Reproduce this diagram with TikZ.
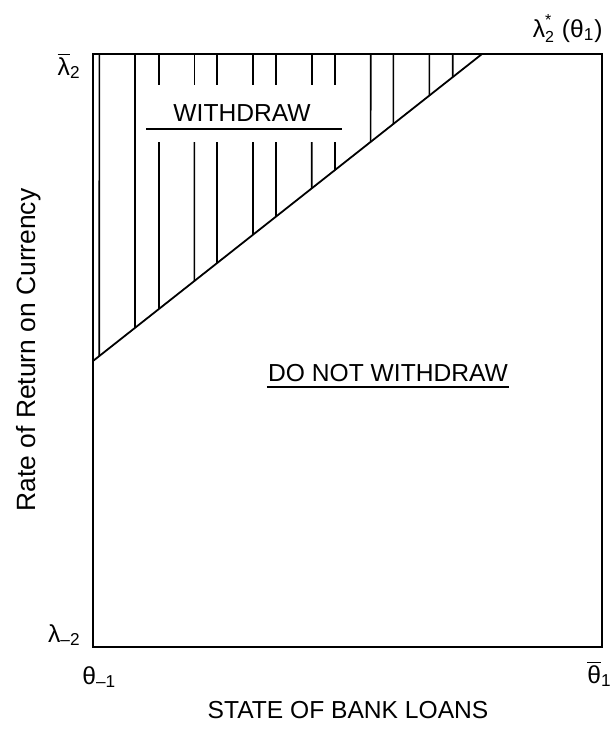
\documentclass[tikz,border=0pt]{standalone}
\usepackage{fontspec}
\setmainfont{Liberation Sans}
\usetikzlibrary{calc}

\newcommand{\barsym}[1]{$\overline{\mbox{#1}}$}

\begin{document}
\begin{tikzpicture}[x=0.5pt, y=-0.5pt, every node/.style={font=\fontsize{12.3}{14.6}\selectfont, inner sep=0pt}, hatch/.style={line width=0.8pt}, frame/.style={line width=0.9pt}]
	\useasboundingbox (0,0) rectangle (613,734);
	\coordinate (sw) at (93,647);
	\coordinate (ne) at (602,54);
	\coordinate (lo) at (93,361);
	\coordinate (hi) at (482,54);
	\foreach \hx in {99.3,135,370.7,393.3,429.3,452.7}
		\draw[hatch] (\hx,54) -- ($(lo)!{(\hx-93)/389}!(hi)$);
	\foreach \hx in {159,194.3,217,253,276,311.7,335} {
		\draw[hatch] (\hx,54) -- (\hx,85);
		\draw[hatch] (\hx,142) -- ($(lo)!{(\hx-93)/389}!(hi)$);
	}
	\draw[frame] (lo) -- (hi);
	\draw[frame] (sw) rectangle (ne);
	\node[anchor=base] (wd) at (242,121) {WITHDRAW};
	\coordinate (wdl) at (146,128.7);
	\coordinate (wdr) at (342,128.7);
	\draw[line width=0.8pt] (wdl) -- (wdr);
	\node[anchor=base] (nwd) at (388,381) {DO NOT WITHDRAW};
	\draw[line width=0.8pt] ($(nwd.base west)+(-1,6)$) -- ($(nwd.base east)+(1,6)$);
	\node[anchor=base east] (lmax) at (81,75) {\barsym{λ}\textsubscript{2}};
	\node[anchor=base east] (lmin) at (81,642) {λ\textsubscript{–2}};
	\node[anchor=base west] (tmin) at (82,684) {θ\textsubscript{–1}};
	\node[anchor=base east] (tmax) at (612,683) {\barsym{θ}\textsubscript{1}};
	\node[anchor=base east] (lstar) at (603,37) {$\mbox{λ}^{\mbox{\footnotesize *}}_{\mbox{\footnotesize 2}}$ (θ\textsubscript{1})};
	\node[anchor=base] (xlab) at (348,718) {STATE OF BANK LOANS};
	\node[anchor=base, rotate=90, font=\fontsize{13.2}{15}\selectfont] (ylab) at (35,350) {Rate of Return on Currency};
\end{tikzpicture}
\end{document}
